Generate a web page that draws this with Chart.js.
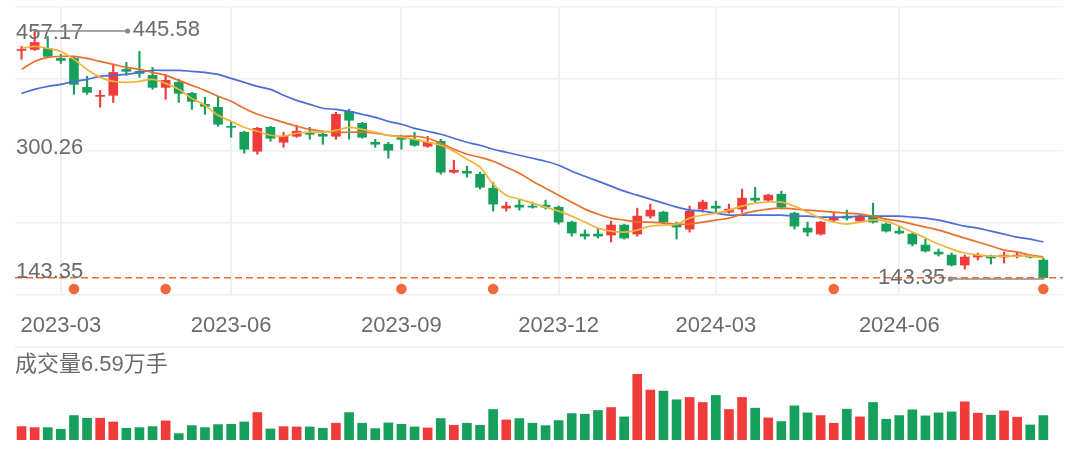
<!DOCTYPE html>
<html lang="zh-CN">
<head>
  <meta charset="UTF-8">
  <title>周K线</title>
  <script src="https://cdn.jsdelivr.net/npm/chart.js"></script>
  <style>
    html, body { margin: 0; padding: 0; background: #fff; }
    .price { width: 1076px; height: 346px; position: relative; }
    .vol { width: 1076px; height: 106px; position: relative; }
  </style>
</head>
<body>
  <div class="price"><canvas id="kline"></canvas></div>
  <div class="vol"><canvas id="volume"></canvas></div>
  <script>
    const weeks = [
      '2023-02-10','2023-02-17','2023-02-24','2023-03-03','2023-03-10','2023-03-17','2023-03-24','2023-03-31',
      '2023-04-07','2023-04-14','2023-04-21','2023-04-28','2023-05-05','2023-05-12','2023-05-19','2023-05-26',
      '2023-06-02','2023-06-09','2023-06-16','2023-06-21','2023-06-30','2023-07-07','2023-07-14','2023-07-21',
      '2023-07-28','2023-08-04','2023-08-11','2023-08-18','2023-08-25','2023-09-01','2023-09-08','2023-09-15',
      '2023-09-22','2023-09-28','2023-10-13','2023-10-20','2023-10-27','2023-11-03','2023-11-10','2023-11-17',
      '2023-11-24','2023-12-01','2023-12-08','2023-12-15','2023-12-22','2023-12-29','2024-01-05','2024-01-12',
      '2024-01-19','2024-01-26','2024-02-02','2024-02-08','2024-02-23','2024-03-01','2024-03-08','2024-03-15',
      '2024-03-22','2024-03-29','2024-04-03','2024-04-12','2024-04-19','2024-04-26','2024-04-30','2024-05-10',
      '2024-05-17','2024-05-24','2024-05-31','2024-06-07','2024-06-14','2024-06-21','2024-06-28','2024-07-05',
      '2024-07-12','2024-07-19','2024-07-26','2024-08-02','2024-08-09','2024-08-16','2024-08-23'
    ];
    const tickLabels = ['2023-03', '2023-06', '2023-09', '2023-12', '2024-03', '2024-06'];
    const priceLabels = [143.35, 300.26, 457.17];

    const open = [
      421.9, 423.1, 424.3, 412.2, 412.2, 376.9, 365.9, 367.2, 398.8, 396.4,
      391.5, 376.9, 383.0, 369.6, 356.2, 352.6, 329.5, 322.2, 299.0, 328.2,
      310.0, 317.3, 322.2, 319.7, 317.3, 347.7, 333.1, 310.0, 307.6, 316.1,
      313.6, 305.1, 311.2, 273.5, 274.7, 271.1, 254.0, 229.7, 233.4, 232.2,
      233.4, 230.9, 212.7, 198.1, 198.1, 196.9, 209.1, 198.1, 220.0, 224.8,
      209.1, 204.2, 228.5, 232.2, 224.8, 228.5, 241.9, 239.4, 246.7, 223.6,
      205.4, 198.1, 215.1, 220.0, 213.9, 220.0, 210.3, 201.7, 198.1, 184.7,
      176.2, 172.5, 160.4, 170.1, 171.3, 170.1, 171.3, 171.3, 166.4
    ];
    const high = [
      426.8, 445.58, 438.9, 417.0, 413.4, 390.3, 373.2, 404.9, 407.3, 420.7,
      401.2, 392.7, 386.6, 370.8, 364.7, 366.0, 334.3, 323.4, 328.2, 329.5,
      322.2, 330.7, 328.2, 322.2, 346.5, 350.1, 334.3, 313.6, 310.0, 318.5,
      322.2, 317.3, 313.6, 288.1, 280.8, 273.5, 261.3, 237.0, 239.4, 237.0,
      239.4, 232.2, 213.9, 203.0, 204.2, 213.9, 210.3, 229.7, 234.6, 226.1,
      212.7, 232.2, 239.4, 238.2, 234.6, 252.8, 255.2, 246.7, 250.4, 224.8,
      212.7, 213.9, 224.8, 227.3, 221.2, 235.8, 211.5, 207.8, 199.3, 192.0,
      179.8, 175.0, 172.5, 175.0, 172.5, 176.2, 176.2, 172.5, 168.9
    ];
    const low = [
      411.0, 421.9, 413.4, 406.1, 368.4, 368.4, 352.6, 358.6, 391.5, 389.1,
      374.5, 362.3, 358.6, 350.1, 344.1, 329.5, 316.1, 296.6, 295.4, 311.2,
      303.9, 316.1, 313.6, 307.6, 313.6, 313.6, 314.9, 303.9, 290.5, 301.5,
      305.1, 303.9, 271.1, 272.3, 267.5, 252.8, 226.1, 226.1, 227.3, 229.7,
      228.5, 210.3, 195.6, 192.0, 193.2, 188.4, 192.0, 195.6, 217.5, 211.5,
      192.0, 200.5, 224.8, 224.8, 223.6, 224.8, 237.0, 238.2, 228.5, 204.2,
      195.6, 196.9, 212.7, 215.1, 212.7, 211.5, 200.5, 198.1, 183.5, 176.2,
      171.3, 159.2, 155.5, 166.4, 161.6, 162.8, 168.9, 168.9, 143.35
    ];
    const close = [
      423.1, 431.6, 414.6, 409.7, 380.5, 370.8, 367.2, 395.1, 396.4, 393.9,
      376.9, 385.4, 369.6, 359.9, 353.8, 331.9, 328.2, 301.5, 327.0, 314.9,
      317.3, 323.4, 319.7, 317.3, 344.1, 336.8, 316.1, 307.6, 300.3, 313.6,
      306.3, 310.0, 273.5, 275.9, 272.3, 255.2, 234.6, 232.2, 230.9, 230.9,
      230.9, 212.7, 199.3, 195.6, 195.6, 209.1, 193.2, 220.0, 227.3, 212.7,
      206.6, 226.1, 237.0, 229.7, 228.5, 241.9, 239.4, 245.5, 230.9, 207.8,
      200.5, 212.7, 217.5, 217.5, 220.0, 212.7, 201.7, 199.3, 186.0, 177.4,
      173.7, 160.4, 170.1, 172.5, 168.9, 172.5, 172.5, 170.1, 145.0
    ];
    const ma5 = [
      424.3, 426.8, 424.3, 420.7, 411.0, 398.8, 389.1, 384.2, 383.0, 384.2,
      386.6, 381.8, 374.5, 363.5, 355.0, 342.8, 335.5, 328.2, 323.4, 318.5,
      317.3, 321.0, 322.2, 322.2, 324.6, 328.2, 325.8, 322.2, 318.5, 316.1,
      313.6, 310.0, 306.3, 299.0, 289.3, 279.6, 258.9, 245.5, 240.7, 235.8,
      230.9, 226.1, 220.0, 212.7, 205.4, 201.7, 200.5, 203.0, 207.8, 209.0,
      210.3, 217.5, 221.2, 223.6, 227.3, 232.2, 235.8, 237.0, 237.0, 232.2,
      224.8, 217.5, 212.7, 210.3, 212.7, 215.1, 213.9, 207.8, 200.5, 193.2,
      185.9, 179.8, 175.0, 172.5, 171.3, 171.3, 171.3, 171.3, 168.9
    ];
    const ma10 = [
      398.8, 408.5, 413.4, 414.6, 414.6, 412.2, 408.5, 404.9, 401.2, 398.8,
      395.1, 391.5, 385.4, 379.3, 373.2, 366.0, 359.9, 351.4, 344.1, 339.2,
      334.3, 329.5, 325.8, 323.4, 322.2, 322.2, 322.2, 321.0, 318.5, 317.3,
      317.3, 314.9, 308.8, 301.5, 295.4, 291.7, 286.9, 279.6, 272.3, 262.6,
      254.0, 245.5, 237.0, 228.5, 222.4, 217.5, 215.1, 212.7, 212.7, 211.5,
      210.3, 210.3, 212.7, 215.1, 217.5, 222.4, 226.1, 228.5, 229.7, 228.5,
      227.3, 226.1, 224.8, 223.6, 222.4, 220.0, 216.3, 213.9, 210.3, 206.6,
      203.0, 198.1, 193.2, 188.4, 183.5, 178.6, 176.2, 172.5, 170.1
    ];
    const ma20 = [
      369.6, 374.5, 378.1, 380.5, 384.2, 386.6, 390.3, 391.5, 392.7, 395.1,
      397.6, 397.6, 397.6, 396.4, 395.1, 392.7, 387.8, 383.0, 378.1, 374.5,
      367.2, 361.1, 356.2, 351.4, 350.1, 347.7, 344.1, 340.4, 335.5, 331.9,
      327.0, 323.4, 319.7, 314.9, 310.0, 306.3, 301.5, 297.8, 294.2, 290.5,
      286.9, 282.0, 274.7, 268.6, 262.6, 256.5, 250.4, 245.5, 240.7, 235.8,
      230.9, 227.3, 226.1, 223.6, 221.2, 221.2, 221.2, 221.2, 221.2, 220.0,
      220.0, 218.8, 218.8, 218.8, 220.0, 220.0, 220.0, 220.0, 218.8, 217.5,
      215.1, 211.5, 207.8, 205.4, 201.7, 198.1, 194.4, 192.0, 188.4
    ];
    // 成交量, 单位: 万手
    const volume = [
      3.61, 3.34, 3.34, 2.89, 6.59, 5.87, 5.87, 4.88, 3.16, 3.34,
      3.61, 5.15, 1.72, 3.88, 3.34, 4.15, 4.24, 4.88, 7.40, 2.98,
      3.61, 3.52, 3.52, 3.16, 4.52, 7.40, 4.52, 3.07, 4.61, 4.24,
      3.52, 3.25, 5.78, 3.97, 4.52, 3.97, 8.22, 5.42, 5.78, 4.52,
      3.88, 5.24, 7.13, 6.95, 7.95, 8.76, 6.23, 17.79, 13.45, 13.18,
      10.84, 11.47, 10.11, 12.01, 8.22, 11.47, 8.58, 5.96, 4.97, 9.21,
      7.31, 6.59, 4.52, 8.31, 6.23, 10.11, 5.60, 6.59, 8.13, 6.50,
      7.31, 7.59, 10.29, 7.22, 6.68, 7.86, 6.14, 4.06, 6.59
    ];
    const eventWeeks = ['2023-03-10', '2023-04-28', '2023-09-01', '2023-10-27', '2024-04-30', '2024-08-23'];

    const RED = '#f03b3b';
    const GREEN = '#16a05c';
    const TEXT = '#6b6b6b';
    const GRID = '#f0f0f0';
    const FONT = 'Arial, "Liberation Sans", "Noto Sans CJK SC", sans-serif';
    const X_MIN = -0.5;
    const X_MAX = weeks.length + 0.5;

    const candleColor = i => close[i] >= open[i] ? RED : GREEN;
    const pts = arr => arr.map((v, i) => ({ x: i, y: v }));
    const tickIndex = tickLabels.map(t => weeks.findIndex(w => w.startsWith(t)));

    const maLine = (label, data, color) => ({
      type: 'line', label, data: pts(data), borderColor: color, borderWidth: 1.7,
      pointRadius: 0, tension: 0.35, fill: false, order: 0
    });

    // 最新价虚线, 纵轴标签, 最高最低标注, 事件圆点
    const overlay = {
      id: 'overlay',
      afterDatasetsDraw(chart) {
        const { ctx, chartArea: a, scales: { x, y } } = chart;
        ctx.save();
        ctx.font = '22px ' + FONT;
        ctx.textBaseline = 'middle';

        const last = close.length - 1;
        const ly = y.getPixelForValue(close[last]);
        ctx.strokeStyle = '#ee6a2c';
        ctx.lineWidth = 1.5;
        ctx.setLineDash([7, 4]);
        ctx.beginPath();
        ctx.moveTo(a.left, ly);
        ctx.lineTo(a.right, ly);
        ctx.stroke();
        ctx.setLineDash([]);

        ctx.fillStyle = '#f26a3a';
        eventWeeks.forEach(d => {
          const i = weeks.indexOf(d);
          ctx.beginPath();
          ctx.arc(x.getPixelForValue(i), a.bottom - 6, 5.3, 0, Math.PI * 2);
          ctx.fill();
        });

        const shift = [-7, -2.5, 11];
        ctx.fillStyle = TEXT;
        ctx.textAlign = 'left';
        priceLabels.forEach((v, k) => {
          ctx.fillText(v.toFixed(2), a.left + 1, y.getPixelForValue(v) + shift[k]);
        });

        const hi = Math.max(...high);
        const lo = Math.min(...low);
        const marks = [[high.indexOf(hi), hi], [low.indexOf(lo), lo]];
        marks.forEach(([i, v]) => {
          const px = x.getPixelForValue(i);
          const py = y.getPixelForValue(v);
          const dir = px < (a.left + a.right) / 2 ? 1 : -1;
          const dx = px + dir * 93;
          ctx.strokeStyle = '#8a8a8a';
          ctx.lineWidth = 1.5;
          ctx.beginPath();
          ctx.moveTo(px, py);
          ctx.lineTo(dx, py);
          ctx.stroke();
          ctx.fillStyle = '#8a8a8a';
          ctx.beginPath();
          ctx.arc(dx, py, 2.6, 0, Math.PI * 2);
          ctx.fill();
          ctx.fillStyle = TEXT;
          ctx.textAlign = dir > 0 ? 'left' : 'right';
          ctx.fillText(v.toFixed(2), dx + dir * 5, py - 1.5);
        });
        ctx.restore();
      }
    };

    new Chart(document.getElementById('kline'), {
      type: 'bar',
      data: {
        datasets: [
          maLine('MA5', ma5, '#f1b43a'),
          maLine('MA10', ma10, '#e8702c'),
          maLine('MA20', ma20, '#4a6ed4'),
          {
            label: '实体', order: 1, grouped: false, barThickness: 9, borderWidth: 0,
            data: open.map((o, i) => ({ x: i, y: [o, close[i]] })),
            backgroundColor: c => candleColor(c.dataIndex)
          },
          {
            label: '影线', order: 2, grouped: false, barThickness: 1.5, borderWidth: 0,
            data: low.map((l, i) => ({ x: i, y: [l, high[i]] })),
            backgroundColor: c => candleColor(c.dataIndex)
          }
        ]
      },
      options: {
        responsive: true,
        maintainAspectRatio: false,
        animation: false,
        layout: { padding: { left: 15, right: 13, top: 7, bottom: 0 } },
        plugins: { legend: { display: false }, tooltip: { enabled: false } },
        scales: {
          x: {
            type: 'linear', min: X_MIN, max: X_MAX, offset: false,
            afterBuildTicks: s => { s.ticks = tickIndex.map(v => ({ value: v })); },
            afterFit: s => { s.height = 51; },
            ticks: {
              color: TEXT, padding: 18, autoSkip: false, maxRotation: 0,
              font: { size: 22, family: FONT },
              callback: (v, k) => tickLabels[k]
            },
            grid: { color: GRID, lineWidth: 2, drawTicks: false, offset: false },
            border: { display: false }
          },
          y: {
            min: 123.85, max: 474.84,
            afterBuildTicks: s => {
              s.ticks = [0, 1, 2, 3, 4].map(k => ({ value: s.min + (s.max - s.min) * k / 4 }));
            },
            afterFit: s => { s.width = 0; },
            ticks: { display: false },
            grid: { color: GRID, lineWidth: 1.5, drawTicks: false },
            border: { display: false }
          }
        }
      },
      plugins: [overlay]
    });

    const volTitle = {
      id: 'volTitle',
      afterDraw(chart) {
        const { ctx, chartArea: a } = chart;
        ctx.save();
        ctx.strokeStyle = GRID;
        ctx.lineWidth = 2;
        ctx.beginPath();
        ctx.moveTo(a.left, 1);
        ctx.lineTo(a.right, 1);
        ctx.stroke();
        ctx.font = '22px ' + FONT;
        ctx.fillStyle = TEXT;
        ctx.textBaseline = 'middle';
        ctx.fillText('成交量' + volume[volume.length - 1].toFixed(2) + '万手', a.left, 19);
        ctx.restore();
      }
    };

    new Chart(document.getElementById('volume'), {
      type: 'bar',
      data: {
        datasets: [{
          label: '成交量', barThickness: 9, borderWidth: 0,
          data: pts(volume),
          backgroundColor: c => candleColor(c.dataIndex)
        }]
      },
      options: {
        responsive: true,
        maintainAspectRatio: false,
        animation: false,
        layout: { padding: { left: 15, right: 13, top: 28, bottom: 12 } },
        plugins: { legend: { display: false }, tooltip: { enabled: false } },
        scales: {
          x: { type: 'linear', min: X_MIN, max: X_MAX, offset: false, display: false },
          y: { min: 0, max: Math.max(...volume), display: false }
        }
      },
      plugins: [volTitle]
    });
  </script>
</body>
</html>
